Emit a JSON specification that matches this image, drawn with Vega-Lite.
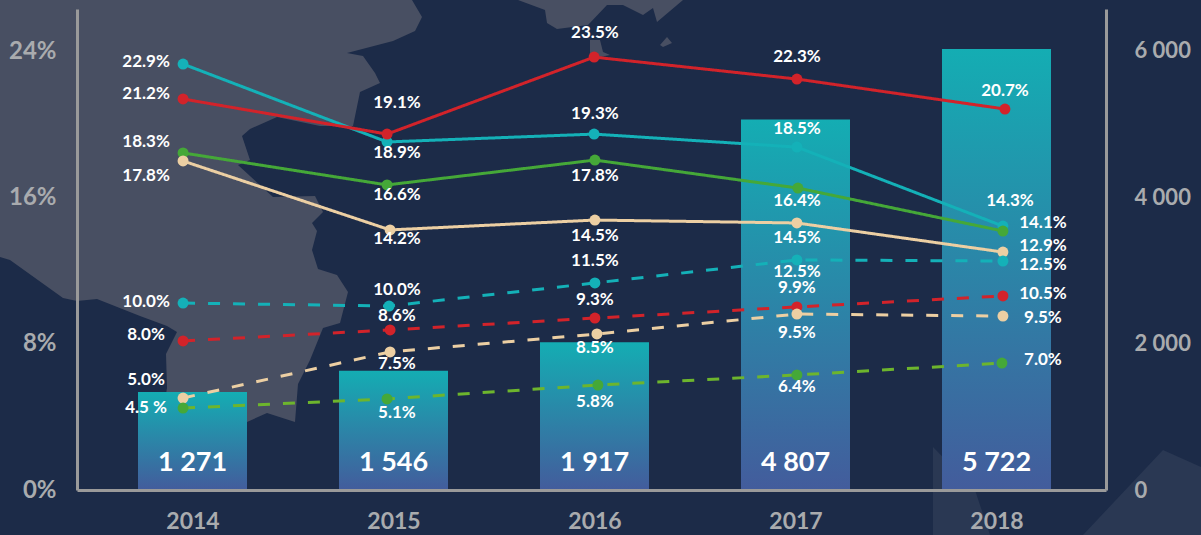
{
"$schema":"https://vega.github.io/schema/vega-lite/v6.json",
"width":1029,"height":481,
"autosize":{"type":"none"},
"padding":{"left":77,"top":9,"right":95,"bottom":45},
"background":"#1c2b48",
"view":{"stroke":null,"fill":null},
"config":{"font":"Lato","axis":{"grid":false}},
"datasets":{
"bars":[{"year":2014,"visitors":1271,"label":"1 271"},{"year":2015,"visitors":1546,"label":"1 546"},{"year":2016,"visitors":1917,"label":"1 917"},{"year":2017,"visitors":4807,"label":"4 807"},{"year":2018,"visitors":5722,"label":"5 722"}],
"series":[
{"series":"solid teal","kind":"solid","x":2013.953,"y":23.29},{"series":"solid teal","kind":"solid","x":2014.968,"y":19.03},{"series":"solid teal","kind":"solid","x":2015.998,"y":19.46},{"series":"solid teal","kind":"solid","x":2017.007,"y":18.75},{"series":"solid teal","kind":"solid","x":2018.032,"y":14.43},
{"series":"solid red","kind":"solid","x":2013.953,"y":21.38},{"series":"solid red","kind":"solid","x":2014.968,"y":19.46},{"series":"solid red","kind":"solid","x":2015.998,"y":23.67},{"series":"solid red","kind":"solid","x":2017.007,"y":22.47},{"series":"solid red","kind":"solid","x":2018.042,"y":20.83},
{"series":"solid green","kind":"solid","x":2013.953,"y":18.43},{"series":"solid green","kind":"solid","x":2014.968,"y":16.68},{"series":"solid green","kind":"solid","x":2016.002,"y":18.04},{"series":"solid green","kind":"solid","x":2017.012,"y":16.51},{"series":"solid green","kind":"solid","x":2018.032,"y":14.16},
{"series":"solid tan","kind":"solid","x":2013.953,"y":17.99},{"series":"solid tan","kind":"solid","x":2014.983,"y":14.22},{"series":"solid tan","kind":"solid","x":2016.002,"y":14.76},{"series":"solid tan","kind":"solid","x":2017.007,"y":14.6},{"series":"solid tan","kind":"solid","x":2018.032,"y":13.01},
{"series":"dashed teal","kind":"dashed","x":2013.953,"y":10.22},{"series":"dashed teal","kind":"dashed","x":2014.978,"y":10.06},{"series":"dashed teal","kind":"dashed","x":2016.002,"y":11.32},{"series":"dashed teal","kind":"dashed","x":2017.007,"y":12.58},{"series":"dashed teal","kind":"dashed","x":2018.032,"y":12.52},
{"series":"dashed red","kind":"dashed","x":2013.953,"y":8.15},{"series":"dashed red","kind":"dashed","x":2014.983,"y":8.75},{"series":"dashed red","kind":"dashed","x":2016.002,"y":9.4},{"series":"dashed red","kind":"dashed","x":2017.007,"y":10.01},{"series":"dashed red","kind":"dashed","x":2018.032,"y":10.61},
{"series":"dashed tan","kind":"dashed","x":2013.953,"y":5.03},{"series":"dashed tan","kind":"dashed","x":2014.983,"y":7.55},{"series":"dashed tan","kind":"dashed","x":2016.012,"y":8.53},{"series":"dashed tan","kind":"dashed","x":2017.007,"y":9.62},{"series":"dashed tan","kind":"dashed","x":2018.032,"y":9.51},
{"series":"dashed green","kind":"dashed","x":2013.953,"y":4.48},{"series":"dashed green","kind":"dashed","x":2014.968,"y":4.98},{"series":"dashed green","kind":"dashed","x":2016.017,"y":5.74},{"series":"dashed green","kind":"dashed","x":2017.007,"y":6.29},{"series":"dashed green","kind":"dashed","x":2018.027,"y":6.94}
],
"labels":[
{"t":"22.9%","x":2013.769,"y":23.4},{"t":"21.2%","x":2013.769,"y":21.65},{"t":"18.3%","x":2013.769,"y":19.03},{"t":"17.8%","x":2013.769,"y":17.17},{"t":"10.0%","x":2013.769,"y":10.28},{"t":"8.0%","x":2013.769,"y":8.47},{"t":"5.0%","x":2013.769,"y":6.01},{"t":"4.5 %","x":2013.769,"y":4.48},
{"t":"19.1%","x":2015.017,"y":21.16},{"t":"18.9%","x":2015.017,"y":18.43},{"t":"16.6%","x":2015.017,"y":16.13},{"t":"14.2%","x":2015.017,"y":13.72},{"t":"10.0%","x":2015.017,"y":10.93},{"t":"8.6%","x":2015.017,"y":9.51},{"t":"7.5%","x":2015.017,"y":6.89},{"t":"5.1%","x":2015.017,"y":4.21},
{"t":"23.5%","x":2016.002,"y":24.99},{"t":"19.3%","x":2016.002,"y":20.56},{"t":"17.8%","x":2016.002,"y":17.17},{"t":"14.5%","x":2016.002,"y":13.89},{"t":"11.5%","x":2016.002,"y":12.52},{"t":"9.3%","x":2016.002,"y":10.39},{"t":"8.5%","x":2016.002,"y":7.76},{"t":"5.8%","x":2016.002,"y":4.81},
{"t":"22.3%","x":2017.007,"y":23.67},{"t":"18.5%","x":2017.007,"y":19.74},{"t":"16.4%","x":2017.007,"y":15.8},{"t":"14.5%","x":2017.007,"y":13.78},{"t":"12.5%","x":2017.007,"y":11.92},{"t":"9.9%","x":2017.007,"y":11.04},{"t":"9.5%","x":2017.007,"y":8.58},{"t":"6.4%","x":2017.007,"y":5.63},
{"t":"20.7%","x":2018.042,"y":21.82},{"t":"14.3%","x":2018.067,"y":15.8},{"t":"14.1%","x":2018.231,"y":14.6},{"t":"12.9%","x":2018.231,"y":13.34},{"t":"12.5%","x":2018.231,"y":12.3},{"t":"10.5%","x":2018.231,"y":10.72},{"t":"9.5%","x":2018.231,"y":9.4},{"t":"7.0%","x":2018.231,"y":7.11}
]
},
"resolve":{"scale":{"y":"independent","color":"independent"},"axis":{"y":"independent"}},
"layer":[
{"data":{"values":[
{"type":"Feature","properties":{"name":"land"},"geometry":{"type":"MultiPolygon","coordinates":[
[[[0,0],[412,0],[422,17],[415,31],[393,41],[347,53],[363,56],[375,73],[380,83],[360,92],[353,126],[320,126],[277,117],[250,129],[242,136],[250,160],[238,165],[273,197],[315,196],[323,212],[312,223],[317,231],[312,250],[318,269],[337,275],[348,292],[340,323],[323,328],[310,360],[298,384],[295,422],[267,413],[247,422],[200,425],[165,400],[167,388],[166,354],[177,332],[167,326],[140,316],[97,299],[77,301],[63,298],[10,260],[0,257],[0,0]]],
[[[518,0],[545,10],[547,23],[557,29],[588,25],[607,5],[623,5],[643,15],[653,8],[657,22],[683,0],[518,0]]],
[[[660,45],[667,37],[672,43],[663,47],[660,45]]],
[[[590,40],[600,40],[603,52],[610,55],[600,57],[590,57],[590,40]]]
]}}
]},
"mark":{"type":"geoshape","fill":"#484f62","stroke":null,"clip":false},
"projection":{"type":"identity","scale":1,"translate":[-77,-9]},
"encoding":{}},
{"data":{"values":[
{"type":"Feature","properties":{"name":"watermark"},"geometry":{"type":"MultiPolygon","coordinates":[
[[[933,447],[975,490],[990,535],[933,535],[933,447]]],
[[[1083,535],[1163,450],[1201,467],[1201,535],[1083,535]],[[1173,495],[1193,495],[1193,523],[1173,523],[1173,495]]]
]}}
]},
"mark":{"type":"geoshape","fill":"#2a3853","stroke":null,"clip":false},
"projection":{"type":"identity","scale":1,"translate":[-77,-9]},
"encoding":{}},
{"data":{"name":"bars"},
"mark":{"type":"bar","width":109,"color":{"x1":0,"y1":0,"x2":0,"y2":1,"gradient":"linear","stops":[{"offset":0,"color":"#14adb3"},{"offset":1,"color":"#435c9c"}]}},
"encoding":{
"x":{"field":"year","type":"quantitative","scale":{"domain":[2013.42537,2018.54478],"nice":false,"zero":false,"padding":0},
"axis":{"zindex":1,"values":[2014,2015,2016,2017,2018],"format":"d","title":null,"domainColor":"#9a9a9a","domainWidth":3,"ticks":false,"labelColor":"#a9abae","labelFontSize":23,"labelFontWeight":"bold","labelPadding":20}},
"y":{"field":"visitors","type":"quantitative","scale":{"domain":[0,6241],"nice":false},"axis":null}}},
{"data":{"name":"series"},
"mark":{"type":"line","strokeWidth":3},
"encoding":{
"x":{"field":"x","type":"quantitative"},
"y":{"field":"y","type":"quantitative","scale":{"domain":[0,26.3],"nice":false},
"axis":{"zindex":1,"orient":"left","values":[0,8,16,24],"title":null,"labelExpr":"datum.value+'%'","domainColor":"#9a9a9a","domainWidth":3,"ticks":false,"labelColor":"#a9abae","labelFontSize":24,"labelFontWeight":"bold","labelPadding":21}},
"detail":{"field":"series"},
"color":{"field":"series","legend":null,"scale":{"domain":["solid teal","solid red","solid green","solid tan","dashed teal","dashed red","dashed tan","dashed green"],"range":["#14b1b8","#d2232a","#45a838","#eccfa3","#14b1b8","#d2232a","#eccfa3","#6db52d"]}},
"strokeDash":{"field":"kind","legend":null,"scale":{"domain":["solid","dashed"],"range":[[1,0],[12,13]]}}}},
{"data":{"name":"series"},
"mark":{"type":"point","filled":true,"size":120,"opacity":1},
"encoding":{
"x":{"field":"x","type":"quantitative"},
"y":{"field":"y","type":"quantitative","scale":{"domain":[0,26.3],"nice":false},"axis":null},
"color":{"field":"series","legend":null,"scale":{"domain":["solid teal","solid red","solid green","solid tan","dashed teal","dashed red","dashed tan","dashed green"],"range":["#14b1b8","#d2232a","#45a838","#eccfa3","#14b1b8","#d2232a","#eccfa3","#45a838"]}}}},
{"data":{"name":"labels"},
"mark":{"type":"text","color":"#ffffff","fontSize":17,"fontWeight":"bold","baseline":"middle","align":"center"},
"encoding":{
"x":{"field":"x","type":"quantitative"},
"y":{"field":"y","type":"quantitative","scale":{"domain":[0,26.3],"nice":false},"axis":null},
"text":{"field":"t"}}},
{"data":{"name":"bars"},
"mark":{"type":"text","color":"#ffffff","fontSize":27,"fontWeight":"bold","baseline":"middle","align":"center"},
"encoding":{
"x":{"field":"year","type":"quantitative"},
"y":{"datum":1.48,"type":"quantitative","scale":{"domain":[0,26.3],"nice":false},"axis":null},
"text":{"field":"label"}}},
{"data":{"name":"bars"},
"mark":{"type":"rule","opacity":0},
"encoding":{
"y":{"field":"visitors","type":"quantitative","scale":{"domain":[0,6574],"nice":false},
"axis":{"zindex":1,"orient":"right","values":[0,2000,4000,6000],"title":null,"labelExpr":"replace(format(datum.value,','),',',' ')","domainColor":"#9a9a9a","domainWidth":3,"ticks":false,"labelColor":"#a9abae","labelFontSize":22,"labelFontWeight":"bold","labelPadding":28}}}}
]
}
